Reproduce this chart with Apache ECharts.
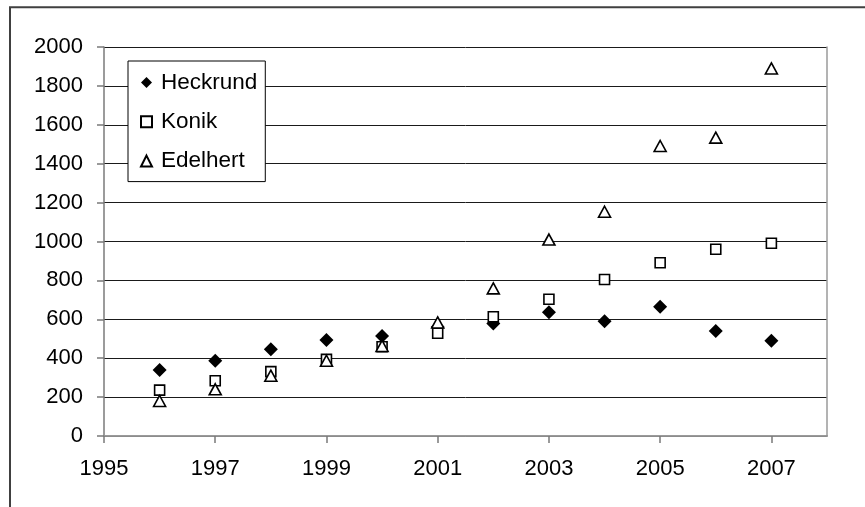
<!DOCTYPE html>
<html>
<head>
<meta charset="utf-8">
<script src="https://cdn.jsdelivr.net/npm/echarts@6/dist/echarts.min.js"></script>
<style>
html,body{margin:0;padding:0;background:#fff;}
#chart{width:865px;height:507px;}
</style>
</head>
<body>
<div id="chart"></div>
<script>
var years = [1996, 1997, 1998, 1999, 2000, 2001, 2002, 2003, 2004, 2005, 2006, 2007];
var heckrund = [339, 387, 446, 494, 514, 560, 579, 636, 590, 665, 540, 490];
var konik = [236, 284, 331, 394, 459, 528, 613, 703, 805, 891, 960, 991];
var edelhert = [180, 240, 310, 387, 463, 584, 759, 1010, 1153, 1491, 1534, 1890];
var xTicks = [1995, 1997, 1999, 2001, 2003, 2005, 2007];
var seriesNames = ['Heckrund', 'Konik', 'Edelhert'];

function pairs(vals) {
  return years.map(function (y, i) { return [y, vals[i]]; });
}
function plain(v) { return String(v); }

var font = "'Liberation Sans', Arial, Helvetica, sans-serif";
var chart = echarts.init(document.getElementById('chart'), null, {renderer: 'canvas'});
chart.setOption({
  animation: false,
  backgroundColor: '#fff',
  graphic: [{
    type: 'rect',
    shape: {x: 10, y: 7.3, width: 900, height: 600},
    style: {fill: 'none', stroke: '#404040', lineWidth: 2},
    z: 100
  }],
  grid: {left: 104, top: 47, right: 38, bottom: 71, containLabel: false},
  legend: {
    orient: 'vertical',
    left: 128,
    top: 61,
    padding: [10, 8, 9, 12],
    itemGap: 16.3,
    itemWidth: 11,
    itemHeight: 11,
    backgroundColor: '#fff',
    borderColor: '#000',
    borderWidth: 1,
    textStyle: {fontFamily: font, fontSize: 22.5, color: '#000', lineHeight: 22, padding: [0, 0, 0, 4]},
    data: seriesNames
  },
  xAxis: [{
    type: 'value',
    min: 1995, max: 2008, interval: 2,
    axisLine: {show: true, lineStyle: {color: '#7a7a7a', width: 1.5}},
    axisTick: {show: true, inside: false, length: 7, customValues: xTicks, lineStyle: {color: '#7a7a7a', width: 1.5}},
    axisLabel: {customValues: xTicks, formatter: plain, fontFamily: font, fontSize: 22, color: '#000', margin: 22},
    splitLine: {show: false}
  }, {
    type: 'value', position: 'top',
    min: 1995, max: 2008,
    axisLine: {show: true, lineStyle: {color: '#9a9a9a', width: 1.5}},
    axisTick: {show: false}, axisLabel: {show: false}, splitLine: {show: false}
  }],
  yAxis: [{
    type: 'value',
    min: 0, max: 2000, interval: 200,
    axisLine: {show: true, lineStyle: {color: '#7a7a7a', width: 1.5}},
    axisTick: {show: true, inside: false, length: 7, lineStyle: {color: '#7a7a7a', width: 1.5}},
    axisLabel: {formatter: plain, fontFamily: font, fontSize: 22, color: '#000', margin: 21},
    splitLine: {show: true, lineStyle: {color: '#1a1a1a', width: 1}}
  }, {
    type: 'value', position: 'right',
    min: 0, max: 2000,
    axisLine: {show: true, lineStyle: {color: '#9a9a9a', width: 1.5}},
    axisTick: {show: false}, axisLabel: {show: false}, splitLine: {show: false}
  }],
  series: [{
    name: seriesNames[0],
    type: 'scatter',
    symbol: 'diamond',
    symbolSize: 14,
    itemStyle: {color: '#000', opacity: 1},
    data: pairs(heckrund)
  }, {
    name: seriesNames[1],
    type: 'scatter',
    symbol: 'rect',
    symbolSize: 10,
    itemStyle: {color: '#fff', borderColor: '#000', borderWidth: 1.6, opacity: 1},
    data: pairs(konik)
  }, {
    name: seriesNames[2],
    type: 'scatter',
    symbol: 'triangle',
    symbolSize: [12, 11],
    itemStyle: {color: '#fff', borderColor: '#000', borderWidth: 1.6, opacity: 1},
    data: pairs(edelhert)
  }]
});
</script>
</body>
</html>
